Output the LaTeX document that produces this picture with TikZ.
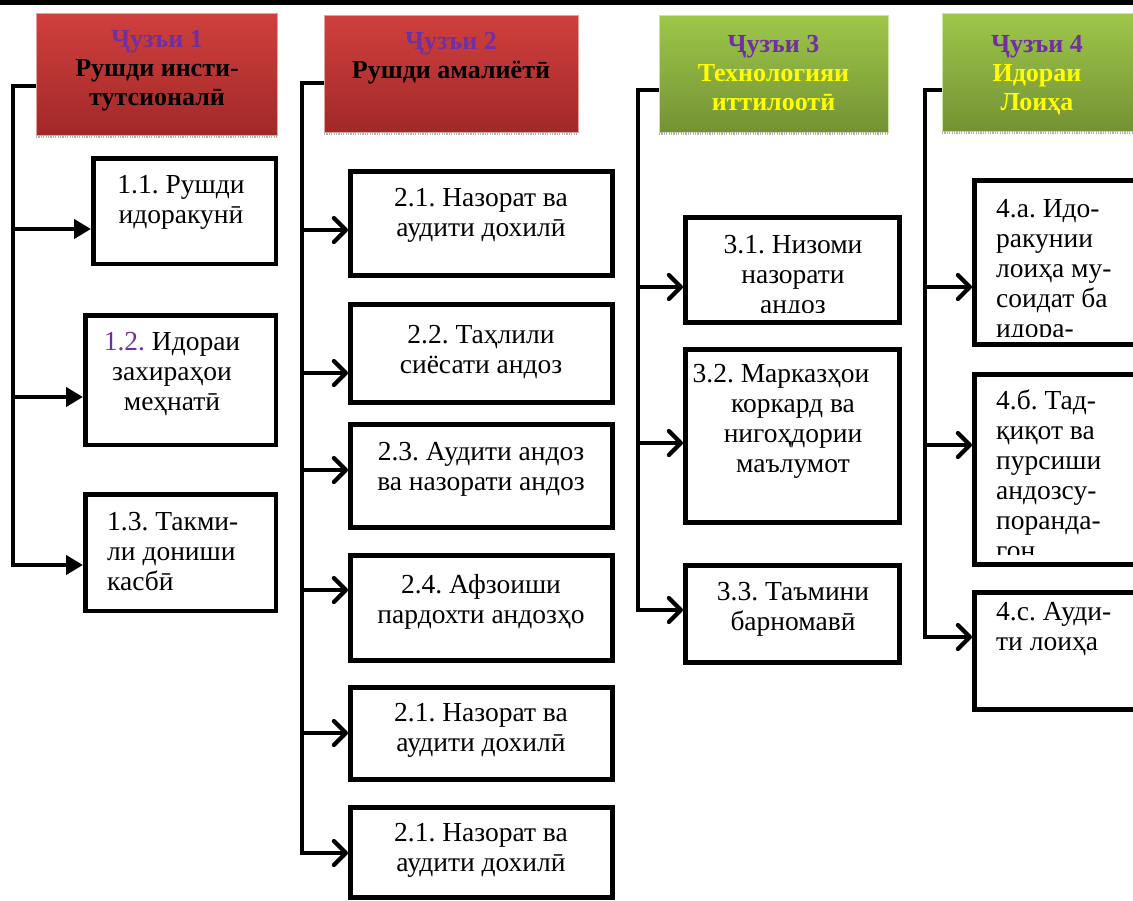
\documentclass[tikz,border=0pt]{standalone}
\usepackage{fontspec}
\setmainfont{Liberation Serif}
\usetikzlibrary{arrows.meta}
\definecolor{hdpurple}{HTML}{7030A0}
\definecolor{redtop}{RGB}{208,64,62}
\definecolor{redbot}{RGB}{162,40,40}
\definecolor{greentop}{RGB}{158,199,74}
\definecolor{greenbot}{RGB}{116,146,52}
\definecolor{hdyellow}{RGB}{255,255,0}
\tikzset{
  hdred/.style={rectangle, inner sep=0pt, outer sep=0pt, top color=redtop, bottom color=redbot, draw=redtop!50!white, line width=0.8pt},
  hdgreen/.style={rectangle, inner sep=0pt, outer sep=0pt, top color=greentop, bottom color=greenbot, draw=greentop!50!white, line width=0.8pt},
  hdtxt/.style={font=\fontsize{26}{29}\selectfont\bfseries\frenchspacing, align=center, inner sep=0pt, anchor=base},
  boxA/.style={rectangle, draw, line width=4.5pt, inner sep=0pt},
  boxB/.style={rectangle, draw, line width=5pt, inner sep=0pt},
  btxt/.style={font=\fontsize{27.5}{30}\selectfont\frenchspacing, align=center, inner sep=0pt, anchor=base},
  btxtl/.style={font=\fontsize{27.5}{30}\selectfont\frenchspacing, align=left, inner sep=0pt, anchor=base west},
  arrA/.style={line width=4.5pt, -{Triangle[length=17pt,width=19pt]}},
  arrB/.style={line width=3.2pt, -{Straight Barb[length=12pt,width=24pt,line width=4.2pt,round]}},
  shadowstrip/.style={line width=3pt, gray!60, dash pattern=on 1.2pt off 1.2pt},
}
\begin{document}
\begin{tikzpicture}[x=1pt,y=-1pt]
\useasboundingbox (0,0) rectangle (1133,900);
\fill[black] (0,0) rectangle (1133,5);

% headers
\node[hdred, minimum width=241pt, minimum height=122pt] (h1) at (156.5,74) {};
\node[hdred, minimum width=254pt, minimum height=117pt] (h2) at (451,73.5) {};
\node[hdgreen, minimum width=229pt, minimum height=117pt] (h3) at (773.5,73.5) {};
\node[hdgreen, minimum width=193pt, minimum height=118pt] (h4) at (1038.5,72) {};
\foreach \h in {h1,h2,h3,h4}{
  \draw[shadowstrip] ([yshift=-1.5pt]\h.south west) -- ([yshift=-1.5pt]\h.south east);
}
\node[hdtxt] (h1t) at (157,105) {\textcolor{hdpurple}{Ҷузъи 1}\\Рушди инсти-\\тутсионалӣ};
\node[hdtxt] (h2t) at (451,78) {\textcolor{hdpurple}{Ҷузъи 2}\\Рушди амалиётӣ};
\node[hdtxt, text=hdyellow] (h3t) at (773.5,110) {\textcolor{hdpurple}{Ҷузъи 3}\\Технологияи\\иттилоотӣ};
\node[hdtxt, text=hdyellow] (h4t) at (1037,110) {\textcolor{hdpurple}{Ҷузъи 4}\\Идораи\\Лоиҳа};

% column 1 boxes
\node[boxA, minimum width=182.5pt, minimum height=105.5pt] (b11) at (184.5,211) {};
\node[boxA, minimum width=190.5pt, minimum height=129.5pt] (b12) at (180.5,380) {};
\node[boxA, minimum width=190.5pt, minimum height=116.5pt] (b13) at (180.5,552.5) {};
\node[btxt] (t11) at (181,223) {1.1. Рушди\\идоракунӣ};
\node[btxt] (t12) at (172,410) {\textcolor{hdpurple}{1.2.} Идораи\\захираҳои\\меҳнатӣ};
\node[btxtl] (t13) at (107,590) {1.3. Такми-\\ли дониши\\касбӣ};

% column 2 boxes
\node[boxB, minimum width=262pt, minimum height=104pt] (b21) at (481.5,223.5) {};
\node[boxB, minimum width=262pt, minimum height=98pt] (b22) at (481.5,353.5) {};
\node[boxB, minimum width=262pt, minimum height=103pt] (b23) at (481.5,476) {};
\node[boxB, minimum width=262pt, minimum height=105pt] (b24) at (481.5,608) {};
\node[boxB, minimum width=262pt, minimum height=92pt] (b25) at (481.5,733.5) {};
\node[boxB, minimum width=262pt, minimum height=90pt] (b26) at (481.5,852.5) {};
\node[btxt] (t21) at (481,236) {2.1. Назорат ва\\аудити дохилӣ};
\node[btxt] (t22) at (481,373) {2.2. Таҳлили\\сиёсати андоз};
\node[btxt] (t23) at (481,490) {2.3. Аудити андоз\\ва назорати андоз};
\node[btxt] (t24) at (481,623) {2.4. Афзоиши\\пардохти андозҳо};
\node[btxt] (t25) at (481,751) {2.1. Назорат ва\\аудити дохилӣ};
\node[btxt] (t26) at (481,871) {2.1. Назорат ва\\аудити дохилӣ};

% column 3 boxes
\node[boxB, minimum width=214pt, minimum height=105pt] (b31) at (792.5,270) {};
\node[boxB, minimum width=214pt, minimum height=173pt] (b32) at (792.5,436) {};
\node[boxB, minimum width=214pt, minimum height=97pt] (b33) at (792.5,614) {};
\begin{scope}
  \clip (686,218) rectangle (899,312);
  \node[btxt] (t31) at (793,313) {3.1. Низоми\\назорати\\андоз};
\end{scope}
\node[btxt] (t32) at (793,472) {3.2. Марказҳои\hspace*{24pt}\\коркард ва\\нигоҳдории\\маълумот};
\node[btxt] (t33) at (793,630) {3.3. Таъмини\\барномавӣ};

% column 4 boxes
\node[boxB, minimum width=168pt, minimum height=164pt] (b41) at (1058.5,262.5) {};
\node[boxB, minimum width=168pt, minimum height=190pt] (b42) at (1058.5,469.5) {};
\node[boxB, minimum width=168pt, minimum height=117pt] (b43) at (1058.5,651) {};
\begin{scope}
  \clip (975,181) rectangle (1133,336);
  \node[btxtl] (t41) at (996,337) {4.а. Идо-\\ракунии\\лоиҳа му-\\соидат ба\\идора-};
\end{scope}
\begin{scope}
  \clip (975,375) rectangle (1133,554);
  \node[btxtl] (t42) at (996,559) {4.б. Тад-\\қиқот ва\\пурсиши\\андозсу-\\поранда-\\гон};
\end{scope}
\node[btxtl] (t43) at (996,650) {4.с. Ауди-\\ти лоиҳа};

% connectors column 1
\coordinate (c1) at (h1.west |- 0,86);
\coordinate (k11) at (13,229);
\coordinate (k12) at (13,397);
\coordinate (k13) at (13,565);
\draw[arrA] (c1) -| (k13) -- (k13 -| b13.west);
\draw[arrA] (k11) -- (k11 -| b11.west);
\draw[arrA] (k12) -- (k12 -| b12.west);

% connectors column 2
\coordinate (c2) at (h2.west |- 0,83);
\coordinate (k21) at (302,230);
\coordinate (k22) at (302,373);
\coordinate (k23) at (302,470);
\coordinate (k24) at (302,590);
\coordinate (k25) at (302,733);
\coordinate (k26) at (302,853);
\draw[arrB] (c2) -| (k26) -- (k26 -| b26.west);
\foreach \i in {1,...,5}{
  \draw[arrB] (k2\i) -- (k2\i -| b2\i.west);
}

% connectors column 3
\coordinate (c3) at (h3.west |- 0,90);
\coordinate (k31) at (638,287);
\coordinate (k32) at (638,443);
\coordinate (k33) at (638,610);
\draw[arrB] (c3) -| (k33) -- (k33 -| b33.west);
\draw[arrB] (k31) -- (k31 -| b31.west);
\draw[arrB] (k32) -- (k32 -| b32.west);

% connectors column 4
\coordinate (c4) at (h4.west |- 0,90);
\coordinate (k41) at (925,287);
\coordinate (k42) at (925,445);
\coordinate (k43) at (925,637);
\draw[arrB] (c4) -| (k43) -- (k43 -| b43.west);
\draw[arrB] (k41) -- (k41 -| b41.west);
\draw[arrB] (k42) -- (k42 -| b42.west);
\end{tikzpicture}
\end{document}
